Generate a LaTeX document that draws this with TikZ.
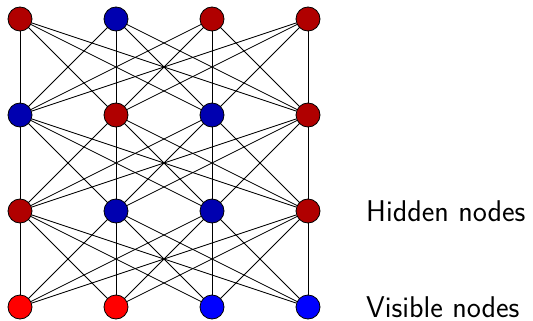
\documentclass[tikz,border=0pt]{standalone}
\definecolor{dred}{RGB}{176,0,0}
\definecolor{dblue}{RGB}{0,0,176}
\definecolor{bred}{RGB}{255,0,0}
\definecolor{bblue}{RGB}{0,0,255}
\begin{document}
\begin{tikzpicture}[x=1pt,y=-1pt,
  unit/.style={circle,draw=black,line width=0.8pt,minimum size=24pt,inner sep=0pt},
  edge/.style={draw=black,line width=0.8pt},
  lab/.style={font=\sffamily\fontsize{30}{34}\selectfont,anchor=base west,inner sep=0pt}]
\useasboundingbox (0,0) rectangle (533,321);
% columns
\def\xa{20}\def\xb{116}\def\xc{212}\def\xd{308}
% row 1
\node[unit,fill=dred]  (a1) at (\xa,19) {};
\node[unit,fill=dblue] (a2) at (\xb,19) {};
\node[unit,fill=dred]  (a3) at (\xc,19) {};
\node[unit,fill=dred]  (a4) at (\xd,19) {};
% row 2
\node[unit,fill=dblue] (b1) at (\xa,115) {};
\node[unit,fill=dred]  (b2) at (\xb,115) {};
\node[unit,fill=dblue] (b3) at (\xc,115) {};
\node[unit,fill=dred]  (b4) at (\xd,115) {};
% row 3
\node[unit,fill=dred]  (c1) at (\xa,211) {};
\node[unit,fill=dblue] (c2) at (\xb,211) {};
\node[unit,fill=dblue] (c3) at (\xc,211) {};
\node[unit,fill=dred]  (c4) at (\xd,211) {};
% row 4
\node[unit,fill=bred]  (d1) at (\xa,307) {};
\node[unit,fill=bred]  (d2) at (\xb,307) {};
\node[unit,fill=bblue] (d3) at (\xc,307) {};
\node[unit,fill=bblue] (d4) at (\xd,307) {};
\foreach \i in {1,2,3,4}{
  \foreach \j in {1,2,3,4}{
    \draw[edge] (a\i) -- (b\j);
    \draw[edge] (b\i) -- (c\j);
    \draw[edge] (c\i) -- (d\j);
  }
}
\node[lab] (h) at (366,221) {Hidden nodes};
\node[lab] (v) at (366,317) {Visible nodes};
\end{tikzpicture}
\end{document}
